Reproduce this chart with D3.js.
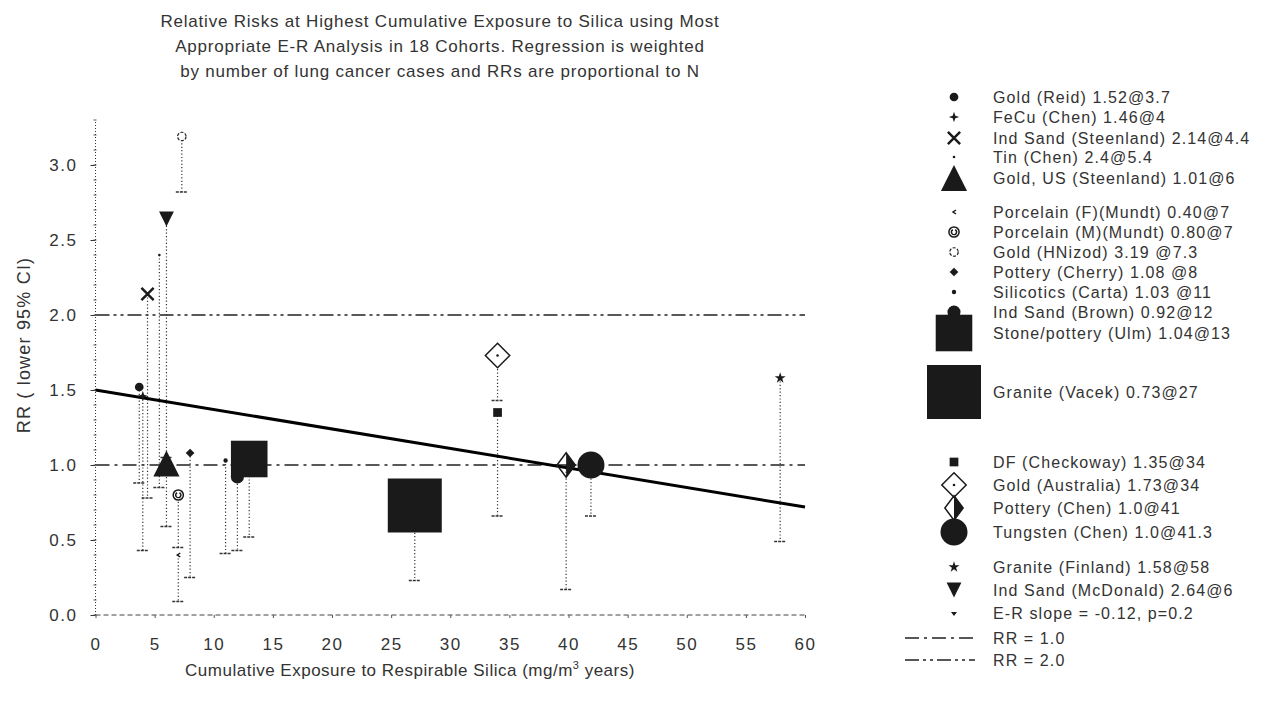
<!DOCTYPE html>
<html>
<head>
<meta charset="utf-8">
<script src="https://cdn.jsdelivr.net/npm/d3@7"></script>
<style>
body { margin: 0; background: #fff; }
text { font-family: "Liberation Sans", Arial, sans-serif; fill: #333; }
</style>
</head>
<body>
<svg id="chart"></svg>
<script>
// ---- data ----
var titleLines = [
  "Relative Risks at Highest Cumulative Exposure to Silica using Most",
  "Appropriate E-R Analysis in 18 Cohorts. Regression is weighted",
  "by number of lung cancer cases and RRs are proportional to N"
];
var studies = [
  "Gold (Reid) 1.52@3.7", "FeCu (Chen) 1.46@4", "Ind Sand (Steenland) 2.14@4.4",
  "Tin (Chen) 2.4@5.4", "Gold, US (Steenland) 1.01@6", "Porcelain (F)(Mundt) 0.40@7",
  "Porcelain (M)(Mundt) 0.80@7", "Gold (HNizod) 3.19 @7.3", "Pottery (Cherry) 1.08 @8",
  "Silicotics (Carta) 1.03 @11", "Ind Sand (Brown) 0.92@12", "Stone/pottery (Ulm) 1.04@13",
  "Granite (Vacek) 0.73@27", "DF (Checkoway) 1.35@34", "Gold (Australia) 1.73@34",
  "Pottery (Chen) 1.0@41", "Tungsten (Chen) 1.0@41.3", "Granite (Finland) 1.58@58",
  "Ind Sand (McDonald) 2.64@6"
];
var exposure = [3.7, 4, 4.4, 5.4, 6, 7, 7, 7.3, 8, 11, 12, 13, 27, 34, 34, 39.8, 41.9, 57.9, 6];
var rr       = [1.52, 1.46, 2.14, 2.4, 1.01, 0.40, 0.80, 3.19, 1.08, 1.03, 0.92, 1.04, 0.73, 1.35, 1.73, 1.0, 1.0, 1.58, 2.64];
var lowerCI  = [0.88, 0.43, 0.78, 0.85, 0.59, 0.09, 0.45, 2.82, 0.25, 0.41, 0.43, 0.52, 0.23, 0.66, 1.43, 0.17, 0.66, 0.49, 1.05];
var cases    = [10, 12, 14, 3, 30, 4, 14, 12, 10, 5, 15, 42, 62, 10, 28, 28, 31, 9, 17];
var xTicks = [0, 5, 10, 15, 20, 25, 30, 35, 40, 45, 50, 55, 60];
var yTicks = [0, 0.5, 1.0, 1.5, 2.0, 2.5, 3.0];
var regExposure = [0, 60];
var regRR = [1.50, 0.72];
var refRR = [1.0, 2.0];
var refLabels = ["RR = 1.0", "RR = 2.0"];
var slopeLabel = "E-R slope = -0.12, p=0.2";
var xTitle = "Cumulative Exposure to Respirable Silica (mg/m";
var yTitle = "RR ( lower 95% CI)";

// ---- drawing ----
var width = 1265, height = 719;
var svg = d3.select("#chart").attr("width", width).attr("height", height);
svg.append("rect").attr("width", width).attr("height", height).attr("fill", "#fff");

var x = d3.scaleLinear().domain([0, 60]).range([95.5, 805]);
var y = d3.scaleLinear().domain([0, 3.3]).range([615, 120]);
var size = d3.scaleLinear().domain([0, 62]).range([0, 54]);

// marker look per study (same order as studies)
var shapes = ["circle", "star4", "x", "dot", "triangle", "chevron", "circleC", "openCircle",
  "diamond", "dot", "circle", "square", "square", "square", "openDiamond", "halfDiamond",
  "circle", "pentagon", "triangleDown"];

var ink = "#1a1a1a";
function drawMarker(g, shape, s) {
  var h = s / 2;
  if (shape == "circle" || shape == "dot") {
    g.append("circle").attr("r", h).attr("fill", ink);
  } else if (shape == "star4") {
    var k = h * 0.25;
    g.append("path").attr("d", "M0," + (-h) + "L" + k + "," + (-k) + "L" + h + ",0L" + k + "," + k +
      "L0," + h + "L" + (-k) + "," + k + "L" + (-h) + ",0L" + (-k) + "," + (-k) + "Z").attr("fill", ink);
  } else if (shape == "x") {
    g.append("path").attr("d", "M" + (-h) + "," + (-h) + "L" + h + "," + h + "M" + h + "," + (-h) + "L" + (-h) + "," + h)
      .attr("stroke", ink).attr("stroke-width", 2.5);
  } else if (shape == "triangle") {
    g.append("path").attr("d", "M0," + (-h) + "L" + h + "," + h + "L" + (-h) + "," + h + "Z").attr("fill", ink);
  } else if (shape == "triangleDown") {
    g.append("path").attr("d", "M0," + h + "L" + h + "," + (-h) + "L" + (-h) + "," + (-h) + "Z").attr("fill", ink);
  } else if (shape == "chevron") {
    g.append("path").attr("d", "M2,-2L-1,0L2,2").attr("fill", "none").attr("stroke", ink).attr("stroke-width", 1.5);
  } else if (shape == "circleC") {
    g.append("circle").attr("r", h - 1).attr("fill", "#fff").attr("stroke", ink).attr("stroke-width", 1.5);
    g.append("path").attr("d", d3.arc()({innerRadius: h * 0.3, outerRadius: h * 0.55, startAngle: 0.5, endAngle: 5.8}))
      .attr("fill", ink);
  } else if (shape == "openCircle") {
    g.append("circle").attr("r", h - 1).attr("fill", "#fff").attr("stroke", ink)
      .attr("stroke-width", 1.2).attr("stroke-dasharray", "3,1.5");
  } else if (shape == "diamond") {
    g.append("path").attr("d", "M0," + (-h) + "L" + h + ",0L0," + h + "L" + (-h) + ",0Z").attr("fill", ink);
  } else if (shape == "square") {
    g.append("rect").attr("x", -h).attr("y", -h).attr("width", s).attr("height", s).attr("fill", ink);
  } else if (shape == "openDiamond") {
    g.append("path").attr("d", "M0," + (-h) + "L" + h + ",0L0," + h + "L" + (-h) + ",0Z")
      .attr("fill", "#fff").attr("stroke", ink).attr("stroke-width", 1.5);
    g.append("circle").attr("r", 1.3).attr("fill", ink);
  } else if (shape == "halfDiamond") {
    var w = h * 0.75;
    g.append("path").attr("d", "M0," + (-h) + "L" + w + ",0L0," + h + "Z").attr("fill", ink);
    g.append("path").attr("d", "M0," + (-h) + "L" + w + ",0L0," + h + "L" + (-w) + ",0Z")
      .attr("fill", "none").attr("stroke", ink).attr("stroke-width", 1.5);
  } else if (shape == "pentagon") {
    g.append("path").attr("d", d3.symbol(d3.symbolStar, s * s * 0.6)()).attr("fill", ink);
  } else if (shape == "wedge") {
    g.append("path").attr("d", "M-3,-1L3,-1L0,3Z").attr("fill", ink);
  }
}

// title
svg.append("g").selectAll("text")
  .data(titleLines)
  .enter()
  .append("text")
  .attr("x", 440)
  .attr("y", function(d, i) { return 27 + i * 25; })
  .attr("text-anchor", "middle")
  .attr("font-size", 17)
  .attr("letter-spacing", 0.8)
  .text(function(d) { return d; });

// reference lines RR = 1 and RR = 2
var refDash = ["14,5,3,5", "14,4,3,4,3,4"];
svg.append("g").selectAll("line")
  .data(refRR)
  .enter()
  .append("line")
  .attr("x1", x(0)).attr("x2", x(60))
  .attr("y1", function(d) { return y(d); })
  .attr("y2", function(d) { return y(d); })
  .attr("stroke", "#222")
  .attr("stroke-width", 1.6)
  .attr("stroke-dasharray", function(d, i) { return refDash[i]; });

// axes (dotted look as in the scan)
svg.append("line").attr("x1", x(0)).attr("x2", x(0)).attr("y1", y(0)).attr("y2", y(3.3))
  .attr("stroke", "#333").attr("stroke-dasharray", "1,2");
svg.append("line").attr("x1", x(0)).attr("x2", x(60)).attr("y1", y(0)).attr("y2", y(0))
  .attr("stroke", "#444").attr("stroke-dasharray", "5,3");

var yAxis = d3.axisLeft(y).tickValues(yTicks).tickSize(5).tickFormat(d3.format(".1f"));
var gy = svg.append("g").attr("transform", "translate(" + x(0) + ",0)").call(yAxis);
gy.select(".domain").remove();
gy.selectAll("line").attr("stroke", "#333");
gy.selectAll("text").attr("font-size", 17).attr("fill", "#333").attr("x", -18)
  .attr("letter-spacing", 1.5).attr("font-family", "Liberation Sans, Arial, sans-serif");

var minor = d3.range(0, 3.31, 0.1);
svg.append("g").selectAll("line")
  .data(minor)
  .enter()
  .append("line")
  .attr("x1", x(0) - 2).attr("x2", x(0) + 1)
  .attr("y1", function(d) { return y(d); })
  .attr("y2", function(d) { return y(d); })
  .attr("stroke", "#555");

var xAxis = d3.axisBottom(x).tickValues(xTicks).tickSize(3);
var gx = svg.append("g").attr("transform", "translate(0," + y(0) + ")").call(xAxis);
gx.select(".domain").remove();
gx.selectAll("line").attr("stroke", "#555");
gx.selectAll("text").attr("font-size", 17).attr("fill", "#333").attr("dy", "1.7em")
  .attr("letter-spacing", 1.5).attr("font-family", "Liberation Sans, Arial, sans-serif");

// axis titles
var xt = svg.append("text").attr("x", 410).attr("y", 676).attr("text-anchor", "middle")
  .attr("font-size", 17).attr("letter-spacing", 0.5);
xt.append("tspan").text(xTitle);
xt.append("tspan").attr("font-size", 11).attr("dy", -7).text("3");
xt.append("tspan").attr("dy", 7).text(" years)");

svg.append("text")
  .attr("transform", "translate(30,345) rotate(-90)")
  .attr("text-anchor", "middle")
  .attr("font-size", 18)
  .attr("letter-spacing", 1.2)
  .text(yTitle);

// lower 95% CI bars
var bars = svg.append("g");
bars.selectAll("line.ci")
  .data(studies)
  .enter()
  .append("line")
  .attr("class", "ci")
  .attr("x1", function(d, i) { return x(exposure[i]); })
  .attr("x2", function(d, i) { return x(exposure[i]); })
  .attr("y1", function(d, i) { return y(rr[i]); })
  .attr("y2", function(d, i) { return y(lowerCI[i]); })
  .attr("stroke", "#333")
  .attr("stroke-width", 1.2)
  .attr("stroke-dasharray", "1.2,2.2");
bars.selectAll("line.cap")
  .data(studies)
  .enter()
  .append("line")
  .attr("class", "cap")
  .attr("x1", function(d, i) { return x(exposure[i]) - 6; })
  .attr("x2", function(d, i) { return x(exposure[i]) + 6; })
  .attr("y1", function(d, i) { return y(lowerCI[i]); })
  .attr("y2", function(d, i) { return y(lowerCI[i]); })
  .attr("stroke", "#333")
  .attr("stroke-width", 1.4)
  .attr("stroke-dasharray", "3,1");

// regression line
svg.append("path")
  .datum(regExposure)
  .attr("d", d3.line()
    .x(function(d) { return x(d); })
    .y(function(d, i) { return y(regRR[i]); }))
  .attr("stroke", "#000")
  .attr("stroke-width", 3)
  .attr("fill", "none");

// markers, biggest first so small ones stay visible
var order = d3.range(studies.length).sort(function(a, b) { return cases[b] - cases[a]; });
var pts = svg.append("g");
order.forEach(function(i) {
  var g = pts.append("g").attr("transform", "translate(" + x(exposure[i]) + "," + y(rr[i]) + ")");
  drawMarker(g, shapes[i], size(cases[i]));
});

// legend
var legendY = [97, 117, 138, 157, 178, 212, 232, 252, 272, 292, 312, 333, 392,
  462, 485, 508, 532, 567, 590];
var lx = 954, tx = 993;
var leg = svg.append("g");
studies.forEach(function(d, i) {
  var g = leg.append("g").attr("transform", "translate(" + lx + "," + legendY[i] + ")");
  drawMarker(g, shapes[i], size(cases[i]));
  leg.append("text").attr("x", tx).attr("y", legendY[i]).attr("dy", "0.35em")
    .attr("font-size", 16).attr("letter-spacing", 1.1).text(d);
});
var gs = leg.append("g").attr("transform", "translate(" + lx + ",613)");
drawMarker(gs, "wedge", 6);
leg.append("text").attr("x", tx).attr("y", 613).attr("dy", "0.35em").attr("font-size", 16)
  .attr("letter-spacing", 1.1).text(slopeLabel);

var refY = [638, 660];
refLabels.forEach(function(d, i) {
  leg.append("line").attr("x1", 905).attr("x2", 975).attr("y1", refY[i]).attr("y2", refY[i])
    .attr("stroke", "#222").attr("stroke-width", 1.4).attr("stroke-dasharray", refDash[i]);
  leg.append("text").attr("x", tx).attr("y", refY[i]).attr("dy", "0.35em").attr("font-size", 16)
    .attr("letter-spacing", 1.1).text(d);
});
</script>
</body>
</html>
